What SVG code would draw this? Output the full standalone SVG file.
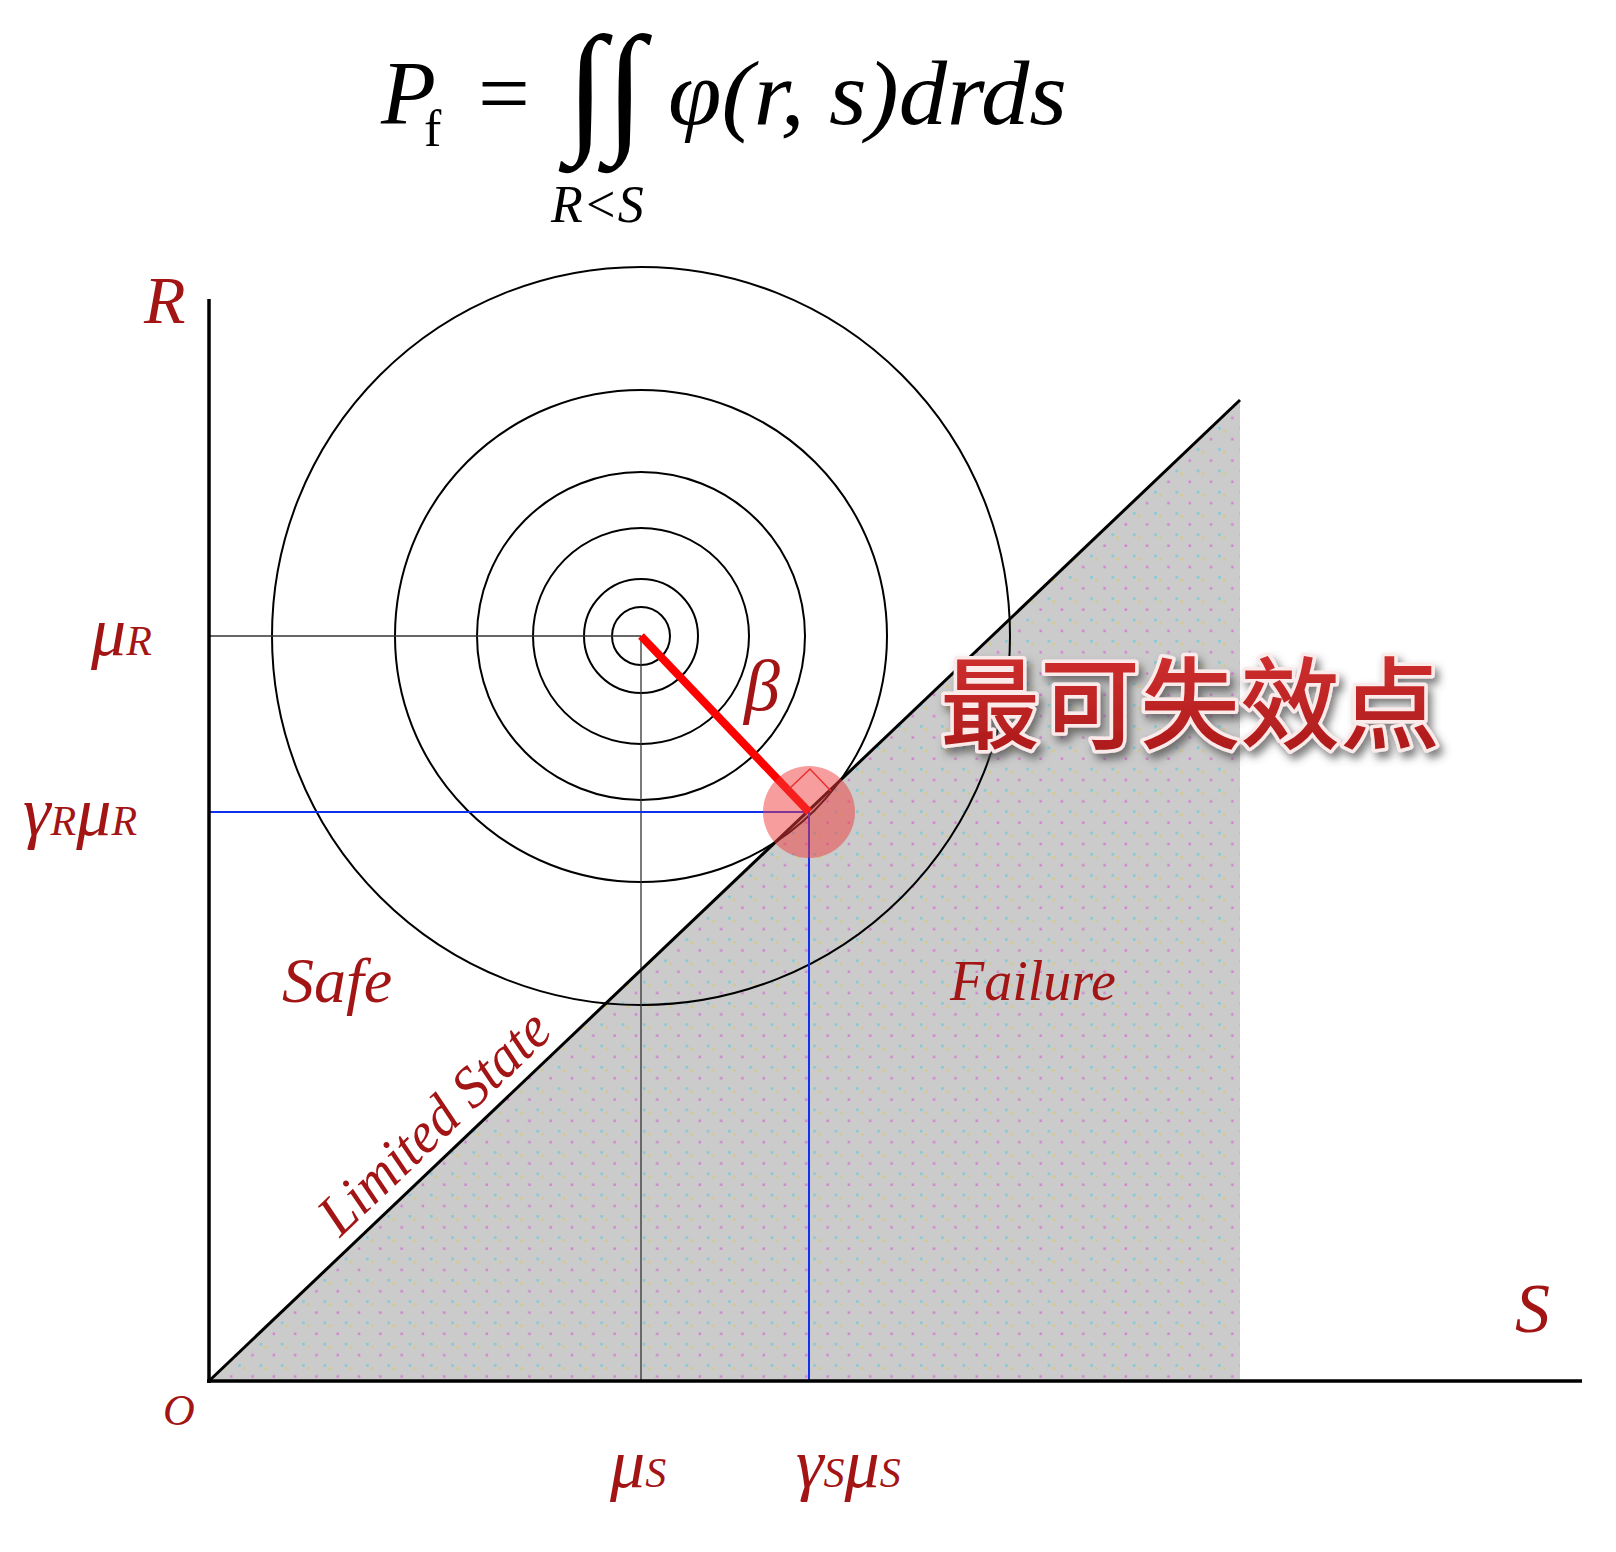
<svg xmlns="http://www.w3.org/2000/svg" width="1616" height="1552" viewBox="0 0 1616 1552">
<style>
.lbl{font-family:"Liberation Serif","Times New Roman",serif;font-style:italic;fill:#a31515}
.eq{font-family:"Liberation Serif","Times New Roman",serif;fill:#000}
.axis{stroke:#000;stroke-width:3.5;fill:none}
.circ{stroke:#000;stroke-width:2;fill:none}
.thin{stroke:#333;stroke-width:1.3;fill:none}
.blue{stroke:#1030f0;stroke-width:2;fill:none}
.cn{font-family:"Noto Sans CJK SC","Noto Sans CJK TC",sans-serif;font-weight:500;font-size:100px;fill:url(#cnGrad);stroke:#fbeaea;stroke-width:7;stroke-linejoin:round;paint-order:stroke;filter:url(#shadow)}
</style>
<defs>
<pattern id="dots" width="21.3" height="21.3" patternUnits="userSpaceOnUse">
<rect width="21.3" height="21.3" fill="#cbcbcb"/>
<rect x="4" y="1" width="2.5" height="2.5" fill="#7fcad6"/>
<rect x="9" y="4" width="2.5" height="2.5" fill="#d4ca86"/>
<rect x="17" y="12" width="2.5" height="2.5" fill="#d283d2"/>
</pattern>
<linearGradient id="cnGrad" x1="0" y1="0" x2="0" y2="1">
<stop offset="0" stop-color="#d83434"/>
<stop offset="1" stop-color="#a81818"/>
</linearGradient>
<filter id="shadow" x="-10%" y="-20%" width="130%" height="160%">
<feDropShadow dx="4" dy="6" stdDeviation="4" flood-color="#444" flood-opacity="0.7"/>
</filter>
</defs>

<g id="formula">
<text class="eq" x="381" y="124" font-size="90" font-style="italic">P<tspan x="424" y="146" font-size="52" font-style="normal">f</tspan></text>
<text class="eq" x="478" y="124" font-size="92">=</text>
<text class="eq" x="566" y="135" font-size="143" font-style="italic">∫∫</text>
<text class="eq" x="668" y="124" font-size="92" font-style="italic" textLength="399" lengthAdjust="spacingAndGlyphs">φ(r, s)drds</text>
<text class="eq" x="551" y="222" font-size="52" font-style="italic">R&lt;S</text>
</g>

<g id="failure-region">
<polygon points="209,1381 1240,400 1240,1381" fill="url(#dots)"/>
</g>

<g id="contours">
<circle class="circ" cx="641" cy="636" r="369"/>
<circle class="circ" cx="641" cy="636" r="246"/>
<circle class="circ" cx="641" cy="636" r="164"/>
<circle class="circ" cx="641" cy="636" r="108"/>
<circle class="circ" cx="641" cy="636" r="57"/>
<circle class="circ" cx="641" cy="636" r="29"/>
</g>

<g id="connectors">
<line class="thin" x1="209" y1="636" x2="641" y2="636"/>
<line class="thin" x1="641" y1="636" x2="641" y2="1381"/>
<line class="blue" x1="209" y1="812" x2="809" y2="812"/>
<line class="blue" x1="809" y1="812" x2="809" y2="1381"/>
<line x1="209" y1="1381" x2="1240" y2="400" stroke="#000" stroke-width="3"/>
<line class="axis" x1="209" y1="299" x2="209" y2="1383"/>
<line class="axis" x1="207" y1="1381" x2="1582" y2="1381"/>
<line x1="641" y1="636" x2="809" y2="812" stroke="#ff0000" stroke-width="8"/>
<polyline points="788,790 810,769 831,791" fill="none" stroke="#e02020" stroke-width="1.5"/>
</g>

<g id="design-point">
<circle cx="809" cy="812" r="46" fill="#f03c3c" fill-opacity="0.5"/>
</g>

<g id="labels">
<text class="lbl" x="144" y="323" font-size="68">R</text>
<text class="lbl" x="91" y="655" font-size="70">μ<tspan font-size="42">R</tspan></text>
<text class="lbl" x="23" y="835" font-size="70">γ<tspan font-size="42">R</tspan>μ<tspan font-size="42">R</tspan></text>
<text class="lbl" x="163" y="1425" font-size="44">O</text>
<text class="lbl" x="610" y="1487" font-size="70">μ<tspan font-size="42">S</tspan></text>
<text class="lbl" x="796" y="1487" font-size="70">γ<tspan font-size="42">S</tspan>μ<tspan font-size="42">S</tspan></text>
<text class="lbl" x="1515" y="1332" font-size="70">S</text>
<text class="lbl" x="282" y="1002" font-size="64">Safe</text>
<text class="lbl" x="950" y="1000" font-size="56">Failure</text>
<text class="lbl" x="744" y="710" font-size="72">β</text>
<text class="lbl" font-size="58" textLength="296" lengthAdjust="spacingAndGlyphs" transform="translate(340,1238) rotate(-43.6)">Limited State</text>
</g>

<g id="annotation">
<text class="cn" x="940" y="741">最可失效点</text>
</g>
</svg>
